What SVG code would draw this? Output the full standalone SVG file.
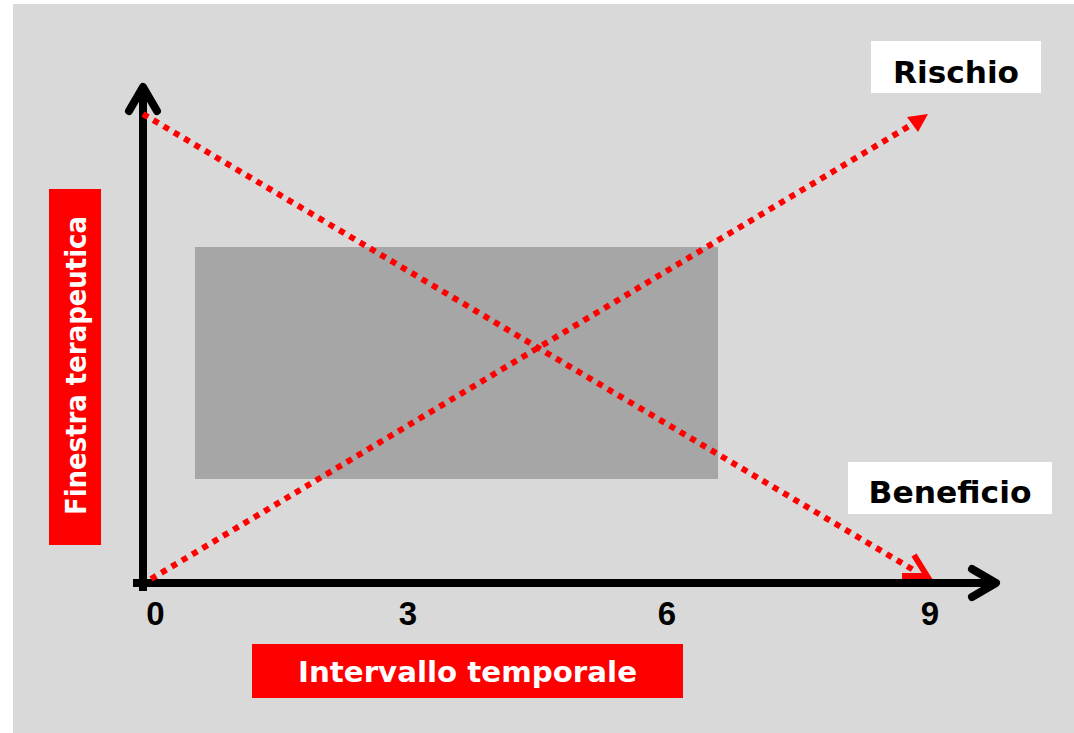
<svg xmlns="http://www.w3.org/2000/svg" width="1074" height="733" viewBox="0 0 1074 733">
<style>
.lbl{font-family:"DejaVu Sans",Verdana,sans-serif;font-weight:bold;}
.tick{font-family:"Liberation Sans",Arial,sans-serif;font-weight:bold;font-size:33px;fill:#000;text-anchor:middle;}
.axis{stroke:#000;stroke-width:8;fill:none;stroke-linecap:round;stroke-linejoin:round;}
.dot{stroke:#FF0000;stroke-width:6;fill:none;stroke-dasharray:6 6;}
</style>
<rect x="0" y="0" width="1074" height="733" fill="#FFFFFF"/>
<rect x="13" y="4" width="1061" height="729" fill="#D9D9D9"/>
<g id="window">
<rect x="195" y="247" width="523" height="232" fill="#A6A6A6"/>
</g>
<g id="axes">
<line class="axis" x1="143" y1="88" x2="143" y2="591" style="stroke-linecap:butt"/>
<line class="axis" x1="133" y1="583" x2="996" y2="583" style="stroke-linecap:butt"/>
<polyline class="axis" points="129,111 143,87 157,111"/>
<polyline class="axis" points="972,569 996,583 972,597"/>
</g>
<g id="connectors">
<line class="dot" x1="143" y1="114" x2="917" y2="572"/>
<polyline points="914,555 927,576 902,576" fill="none" stroke="#FF0000" stroke-width="6" stroke-linejoin="miter"/>
<line class="dot" x1="151" y1="579" x2="916" y2="122"/>
<polygon points="928,114 907,117 918,132" fill="#FF0000"/>
</g>
<g id="rischio">
<rect x="871" y="41" width="170" height="52" fill="#FFFFFF"/>
<text class="lbl" x="956" y="83" font-size="30" text-anchor="middle" textLength="126" lengthAdjust="spacingAndGlyphs">Rischio</text>
</g>
<g id="beneficio">
<rect x="848" y="462" width="204" height="52" fill="#FFFFFF"/>
<text class="lbl" x="950" y="503" font-size="30" text-anchor="middle" textLength="163" lengthAdjust="spacingAndGlyphs">Beneficio</text>
</g>
<g id="intervallo">
<rect x="252" y="644" width="431" height="54" fill="#FF0000"/>
<text class="lbl" x="467.5" y="682" font-size="28" fill="#FFFFFF" text-anchor="middle" textLength="339" lengthAdjust="spacingAndGlyphs">Intervallo temporale</text>
</g>
<g id="finestra">
<rect x="49" y="189" width="52" height="356" fill="#FF0000"/>
<text class="lbl" transform="translate(86,365.5) rotate(-90)" x="0" y="0" font-size="28" fill="#FFFFFF" text-anchor="middle" textLength="299" lengthAdjust="spacingAndGlyphs">Finestra terapeutica</text>
</g>
<g id="ticks">
<text class="tick" x="155.5" y="625">0</text>
<text class="tick" x="408" y="625">3</text>
<text class="tick" x="667" y="625">6</text>
<text class="tick" x="930" y="625">9</text>
</g>
</svg>
